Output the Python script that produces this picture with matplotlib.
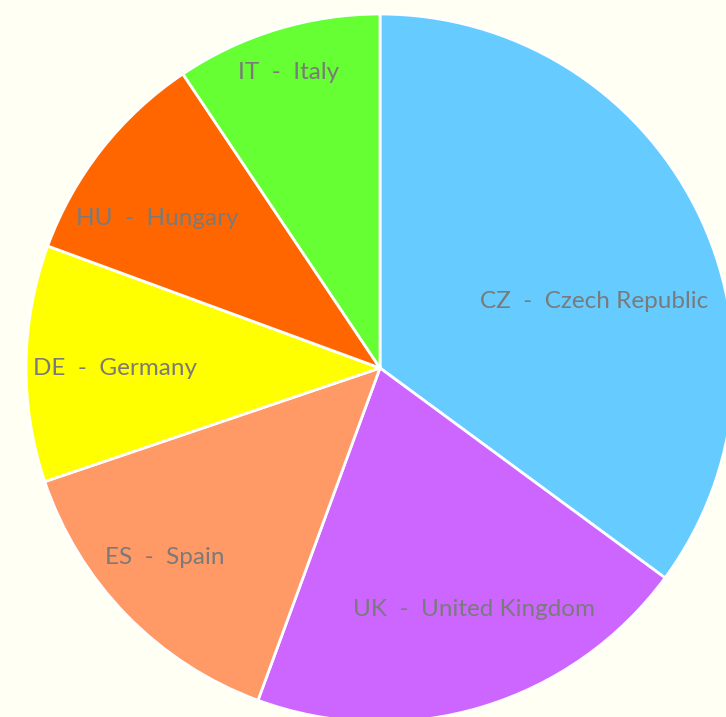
import numpy as np
import matplotlib.pyplot as plt

# Datos del gráfico
codes = ['CZ', 'UK', 'ES', 'DE', 'HU', 'IT']
countries = ['Czech Republic', 'United Kingdom', 'Spain', 'Germany', 'Hungary', 'Italy']
shares = [35.1, 20.5, 14.2, 10.8, 10.0, 9.4]
colors = ['#66CCFF', '#CC66FF', '#FF9966', '#FFFF00', '#FF6600', '#66FF33']

# posición de cada etiqueta: (desfase de ángulo en grados, distancia relativa al radio)
label_pos = [(-9.6, 0.633), (4.5, 0.733), (-2.9, 0.81), (0.8, 0.75), (4.3, 0.757), (0.25, 0.875)]

fig = plt.figure(figsize=(7.26, 7.17), dpi=100)
fig.patch.set_facecolor('#FFFFF3')
ax = fig.add_axes([0, 0, 1, 1])
ax.set_facecolor('#FFFFF3')

wedges, _ = ax.pie(shares, colors=colors, startangle=90, counterclock=False,
                   radius=1.0, wedgeprops=dict(edgecolor='white', linewidth=2))

for w, code, name, (dang, dist) in zip(wedges, codes, countries, label_pos):
    mid = np.deg2rad((w.theta1 + w.theta2) / 2 + dang)
    ax.text(dist * np.cos(mid), dist * np.sin(mid), code + '  -  ' + name,
            ha='center', va='center', fontsize=17.5, color='#7A7A7A', family='Lato')

ax.set_xlim(-380 / 354, (726 - 380) / 354)
ax.set_ylim(-(717 - 368) / 354, 368 / 354)
ax.set_aspect('auto')
ax.axis('off')

plt.savefig('out.png', dpi=100, facecolor=fig.get_facecolor())
